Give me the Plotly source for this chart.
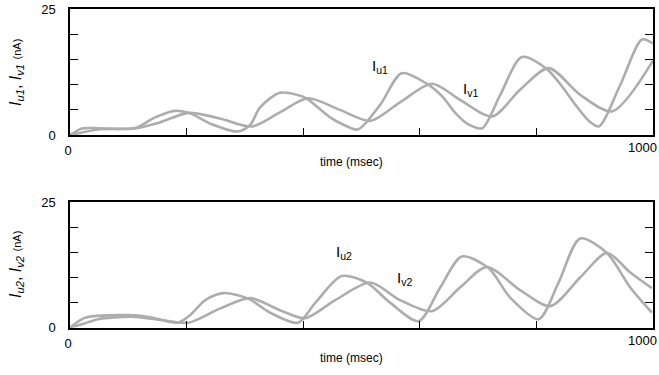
import plotly.graph_objects as go

# ---- data ----
t_u1 = [0, 5, 20, 51, 112, 146, 180, 206, 240, 288, 309, 326, 360, 395, 408, 446, 470, 494, 532, 569, 612, 640, 660, 682, 707, 738, 775, 818, 845, 867, 890, 907, 944, 981, 1000]
i_u1 = [0, 0.3, 1.3, 1.35, 1.4, 3.5, 4.8, 4.3, 2.3, 0.7, 2.0, 5.5, 8.4, 7.8, 7.1, 3.5, 2.0, 1.1, 6.0, 12.3, 10.2, 7.5, 4.5, 2.2, 1.35, 8.0, 15.5, 13.1, 9.5, 6.0, 2.8, 1.7, 10.0, 19.0, 18.2]

t_v1 = [0, 17, 48, 112, 154, 203, 257, 312, 360, 408, 463, 515, 566, 621, 669, 724, 772, 821, 875, 930, 1000]
i_v1 = [0, 0.4, 1.1, 1.3, 2.5, 4.4, 3.3, 1.7, 4.5, 7.3, 5.0, 2.8, 6.5, 10.2, 7.0, 3.7, 9.0, 13.3, 8.0, 4.7, 14.8]

t_u2 = [0, 5, 26, 100, 137, 185, 206, 232, 263, 306, 343, 391, 421, 466, 509, 549, 598, 635, 672, 718, 755, 804, 838, 875, 921, 961, 998]
i_u2 = [0, 0.5, 2.0, 2.5, 2.1, 1.0, 2.5, 5.5, 6.9, 5.8, 3.0, 1.0, 5.0, 10.3, 9.0, 5.0, 1.3, 8.0, 14.2, 11.9, 6.0, 1.7, 9.0, 17.8, 14.9, 8.0, 3.0]

t_v2 = [0, 26, 48, 106, 154, 203, 257, 309, 360, 403, 455, 515, 566, 621, 669, 715, 772, 824, 875, 921, 961, 998]
i_v2 = [0, 0.9, 1.7, 2.2, 1.6, 1.0, 3.8, 5.9, 3.5, 1.9, 5.5, 9.0, 5.5, 3.3, 8.0, 12.1, 7.5, 4.3, 10.0, 14.9, 11.0, 7.9]

x_labeled = [0, 1000]
x_minor = [200, 400, 600, 800]
y_labeled = [0, 25]
y_minor = [5, 10, 15, 20]

LINE = dict(color="#adadad", width=2.6, shape="spline", smoothing=0.8)
FONT = "Liberation Sans, Arial, Helvetica, sans-serif"

fig = go.Figure()
fig.add_trace(go.Scatter(x=t_u1, y=i_u1, mode="lines", line=LINE, xaxis="x", yaxis="y", showlegend=False))
fig.add_trace(go.Scatter(x=t_v1, y=i_v1, mode="lines", line=LINE, xaxis="x", yaxis="y", showlegend=False))
fig.add_trace(go.Scatter(x=t_u2, y=i_u2, mode="lines", line=LINE, xaxis="x2", yaxis="y2", showlegend=False))
fig.add_trace(go.Scatter(x=t_v2, y=i_v2, mode="lines", line=LINE, xaxis="x2", yaxis="y2", showlegend=False))

xax = dict(range=[0, 1000], tickmode="array", tickvals=x_labeled[:1], ticks="",
           minor=dict(tickmode="array", tickvals=x_minor, ticks="inside", ticklen=7, tickwidth=1.3, tickcolor="black", showgrid=False),
           showline=True, linecolor="black", linewidth=1.5, automargin=False, ticklabeloverflow="allow",
           mirror=True, showgrid=False, zeroline=False, domain=[0, 1], ticklabelstandoff=3, ticklabelshift=-2,
           tickfont=dict(family=FONT, size=13, color="black"))
yax = dict(range=[0, 25], tickmode="array", tickvals=y_labeled, ticks="",
           minor=dict(tickmode="array", tickvals=y_minor, ticks="inside", ticklen=8, tickwidth=1.3, tickcolor="black", showgrid=False),
           showline=True, linecolor="black", linewidth=1.5, automargin=False, ticklabeloverflow="allow",
           mirror="ticks", showgrid=False, zeroline=False, ticklabelstandoff=10,
           tickfont=dict(family=FONT, size=13, color="black"))

fig.update_layout(
    width=659, height=375,
    margin=dict(l=70, r=6, t=0, b=0),
    paper_bgcolor="white", plot_bgcolor="white",
    xaxis=dict(xax, anchor="y"),
    yaxis=dict(yax, anchor="x", domain=[0.640, 0.9752]),
    xaxis2=dict(xax, anchor="y2"),
    yaxis2=dict(yax, anchor="x2", domain=[0.1261, 0.4605]),
)

M = dict(xanchor="center", yanchor="middle", showarrow=False)
TF = dict(family=FONT, size=13, color="black")
ann = []
# right-end x tick label "1000" on each panel
ann.append(dict(text=str(x_labeled[-1]), xref="x", yref="y", x=x_labeled[-1], y=0, xanchor="right",
                yanchor="top", xshift=6, yshift=-3, showarrow=False, font=TF))
ann.append(dict(text=str(x_labeled[-1]), xref="x2", yref="y2", x=x_labeled[-1], y=0, xanchor="right",
                yanchor="top", xshift=6, yshift=-3, showarrow=False, font=TF))
ann.append(dict(M, text="time (msec)", xref="paper", yref="paper", x=0.483, y=1 - 162 / 375,
                font=dict(family=FONT, size=12, color="black")))
ann.append(dict(M, text="time (msec)", xref="paper", yref="paper", x=0.483, y=1 - 358 / 375,
                font=dict(family=FONT, size=12, color="black")))
ann.append(dict(M, text="<i>I<sub>u1</sub></i>, <i>I<sub>v1</sub></i> <span style='font-size:11px'>(nA)</span>",
                xref="paper", yref="paper", x=-70 / 583 + 16 / 583, y=1 - 73 / 375, textangle=-90,
                font=dict(family=FONT, size=16, color="black")))
ann.append(dict(M, text="<i>I<sub>u2</sub></i>, <i>I<sub>v2</sub></i> <span style='font-size:11px'>(nA)</span>",
                xref="paper", yref="paper", x=-70 / 583 + 16 / 583, y=1 - 265 / 375, textangle=-90,
                font=dict(family=FONT, size=16, color="black")))
ann.append(dict(M, text="I<sub>u1</sub>", xref="x", yref="y", x=(380 - 70) / 0.5826, y=(135 - 66) / 5.03,
                font=dict(family=FONT, size=15, color="black")))
ann.append(dict(M, text="I<sub>v1</sub>", xref="x", yref="y", x=(470 - 70) / 0.5826, y=(135 - 89) / 5.03,
                font=dict(family=FONT, size=15, color="black")))
ann.append(dict(M, text="I<sub>u2</sub>", xref="x2", yref="y2", x=(344 - 70) / 0.5826, y=(327.7 - 252) / 5.02,
                font=dict(family=FONT, size=15, color="black")))
ann.append(dict(M, text="I<sub>v2</sub>", xref="x2", yref="y2", x=(404 - 70) / 0.5826, y=(327.7 - 278) / 5.02,
                font=dict(family=FONT, size=15, color="black")))
fig.update_layout(annotations=ann)

fig.write_html("out.html", config={"displayModeBar": False},
               post_script="document.body.style.margin='0';document.body.style.padding='0';")
